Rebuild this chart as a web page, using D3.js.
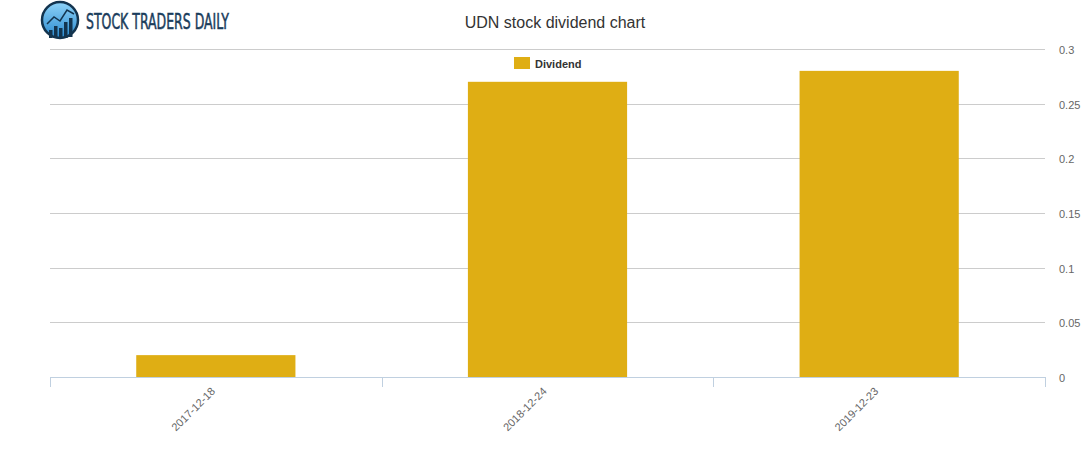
<!DOCTYPE html>
<html><head><meta charset="utf-8">
<script src="https://cdn.jsdelivr.net/npm/d3@7"></script>
<style>body{margin:0;background:#fff}svg{display:block;font-family:"Liberation Sans",Arial,sans-serif}</style>
</head><body><svg id="c" width="1091" height="450"></svg>
<script>
const categories = ["2017-12-18", "2018-12-24", "2019-12-23"];
const dividend = [0.02, 0.27, 0.28];
const yTicks = [0, 0.05, 0.1, 0.15, 0.2, 0.25, 0.3];
const yTickLabels = ["0", "0.05", "0.1", "0.15", "0.2", "0.25", "0.3"];

const svg = d3.select("#c");
const L = 50, R = 1045, T = 49, B = 377;
const x = d3.scaleBand().domain(categories).range([L, R]).paddingInner(0.52).paddingOuter(0.26);
const xb = d3.scaleBand().domain(categories).range([L, R]);
const y = d3.scaleLinear().domain([0, 0.3]).range([B, T]);

// grid
svg.append("g").selectAll("line").data(yTicks.slice(1)).join("line")
  .attr("x1", L).attr("x2", R).attr("y1", d => Math.round(y(d)) + 0.5).attr("y2", d => Math.round(y(d)) + 0.5)
  .attr("stroke", "#cccccc").attr("stroke-width", 1);

// y labels
svg.append("g").selectAll("text").data(yTicks).join("text")
  .attr("x", 1059).attr("y", d => y(d) + 5)
  .attr("font-size", 11).attr("fill", "#666").text((d, i) => yTickLabels[i]);

// bars
svg.append("g").selectAll("rect").data(dividend).join("rect")
  .attr("x", (d, i) => x(categories[i])).attr("width", x.bandwidth())
  .attr("y", d => y(d)).attr("height", d => B - y(d))
  .attr("fill", "#dfae14");

// x axis
const ax = svg.append("g").attr("transform", `translate(0,${B})`);
ax.append("line").attr("x1", L).attr("x2", R).attr("y1", 0.5).attr("y2", 0.5).attr("stroke", "#c0d0e0");
const edges = categories.map(c => xb(c)).concat([R]);
ax.selectAll("line.t").data(edges).join("line").attr("class", "t")
  .attr("x1", d => Math.round(d) + 0.5).attr("x2", d => Math.round(d) + 0.5).attr("y1", 0).attr("y2", 10)
  .attr("stroke", "#c0d0e0");
ax.selectAll("text").data(categories).join("text")
  .attr("transform", d => `translate(${xb(d) + xb.bandwidth() / 2},${15}) rotate(-45)`)
  .attr("text-anchor", "end").attr("font-size", 11).attr("fill", "#666").text(d => d);

// title
svg.append("text").attr("x", 555).attr("y", 28).attr("text-anchor", "middle")
  .attr("font-size", 16).attr("fill", "#333").text("UDN stock dividend chart");

// legend
svg.append("rect").attr("x", 514).attr("y", 57).attr("width", 16).attr("height", 12).attr("fill", "#dfae14");
svg.append("text").attr("x", 535).attr("y", 67.5).attr("font-size", 11).attr("font-weight", "bold")
  .attr("fill", "#333").text("Dividend");

// logo
const lg = svg.append("g");
const grad = svg.append("defs").append("linearGradient").attr("id", "lg1").attr("x1", 0).attr("y1", 0).attr("x2", 0).attr("y2", 1);
grad.append("stop").attr("offset", "0%").attr("stop-color", "#8fd3f8");
grad.append("stop").attr("offset", "100%").attr("stop-color", "#2a8ad0");
lg.append("circle").attr("cx", 60).attr("cy", 20).attr("r", 18).attr("fill", "url(#lg1)").attr("stroke", "#13344f").attr("stroke-width", 2.5);
[[49, 30, 8], [54, 26, 12], [59, 28, 10], [64, 22, 16], [69, 18, 19]].forEach(([bx, by, bh]) =>
  lg.append("rect").attr("x", bx).attr("y", by).attr("width", 3.5).attr("height", bh).attr("fill", "#13344f"));
lg.append("polyline").attr("points", "47,24 54,17 60,21 67,10 74,14").attr("fill", "none").attr("stroke", "#13344f").attr("stroke-width", 1.5);
lg.append("text").attr("x", 86).attr("y", 29).attr("font-size", 21).attr("fill", "#1a3d5c")
  .attr("stroke", "#1a3d5c").attr("stroke-width", 0.5)
  .attr("textLength", 143).attr("lengthAdjust", "spacingAndGlyphs").attr("font-family", "'Liberation Sans Narrow','DejaVu Sans Condensed',sans-serif")
  .text("STOCK TRADERS DAILY");
</script></body></html>
